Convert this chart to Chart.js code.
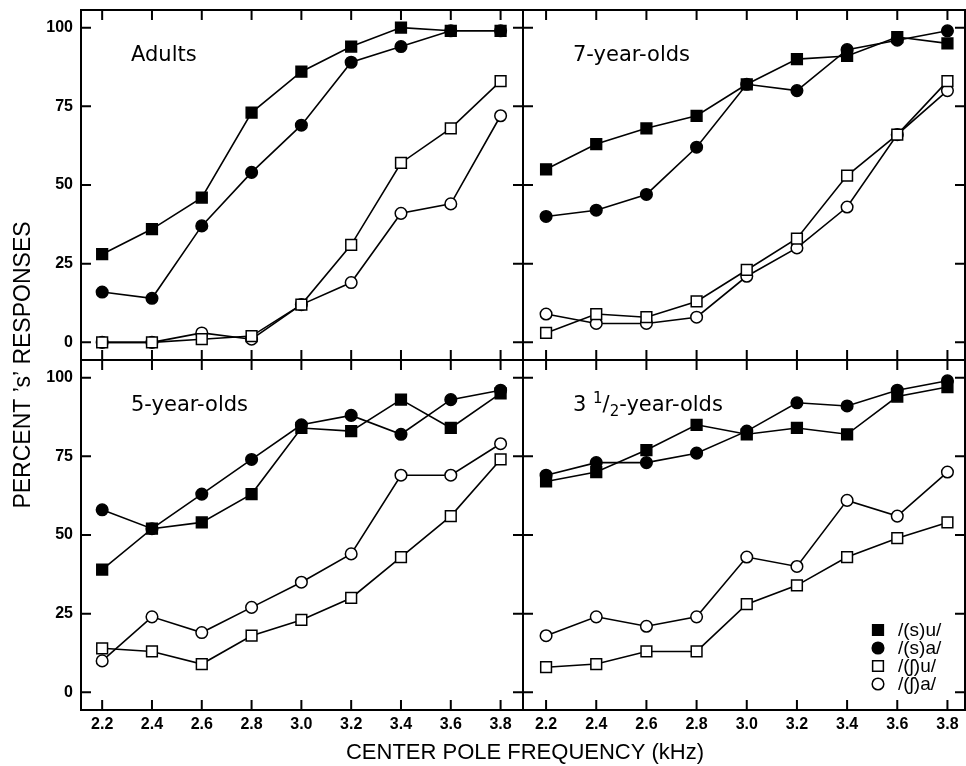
<!DOCTYPE html>
<html>
<head>
<meta charset="utf-8">
<script src="https://cdn.jsdelivr.net/npm/chart.js@4.4.1/dist/chart.umd.min.js"></script>
<style>
html, body { margin: 0; padding: 0; background: #fff; }
#wrap { position: relative; width: 966px; height: 766px; overflow: hidden; }
#wrap canvas { position: absolute; left: 0; top: 0; }
</style>
</head>
<body>
<div id="wrap">
  <canvas id="bg" width="966" height="766"></canvas>
  <canvas id="pAdults" width="966" height="766"></canvas>
  <canvas id="p7" width="966" height="766"></canvas>
  <canvas id="p5" width="966" height="766"></canvas>
  <canvas id="p3" width="966" height="766"></canvas>
</div>
<script>
// center pole frequency (kHz)
let freqs = [2.2, 2.4, 2.6, 2.8, 3.0, 3.2, 3.4, 3.6, 3.8];
let xTicks = [2.2, 2.4, 2.6, 2.8, 3.0, 3.2, 3.4, 3.6, 3.8];
let yTicks = [0, 25, 50, 75, 100];
let seriesNames = ["/(s)u/", "/(s)a/", "/(\u0283)u/", "/(\u0283)a/"];
let panelNames = ["Adults", "7-year-olds", "5-year-olds", "3 1/2-year-olds"];

// percent 's' responses
let adultsSu  = [28, 36, 46, 73, 86, 94, 100, 99, 99];
let adultsSa  = [16, 14, 37, 54, 69, 89, 94, 99, 99];
let adultsShu = [0, 0, 1, 2, 12, 31, 57, 68, 83];
let adultsSha = [0, 0, 3, 1, 12, 19, 41, 44, 72];

let sevenSu  = [55, 63, 68, 72, 82, 90, 91, 97, 95];
let sevenSa  = [40, 42, 47, 62, 82, 80, 93, 96, 99];
let sevenShu = [3, 9, 8, 13, 23, 33, 53, 66, 83];
let sevenSha = [9, 6, 6, 8, 21, 30, 43, 66, 80];

let fiveSu  = [39, 52, 54, 63, 84, 83, 93, 84, 95];
let fiveSa  = [58, 52, 63, 74, 85, 88, 82, 93, 96];
let fiveShu = [14, 13, 9, 18, 23, 30, 43, 56, 74];
let fiveSha = [10, 24, 19, 27, 35, 44, 69, 69, 79];

let threeSu  = [67, 70, 77, 85, 82, 84, 82, 94, 97];
let threeSa  = [69, 73, 73, 76, 83, 92, 91, 96, 99];
let threeShu = [8, 9, 13, 13, 28, 34, 43, 49, 54];
let threeSha = [18, 24, 21, 24, 43, 40, 61, 56, 70];

const W = 966, H = 766;
const Y_AXIS_W = 40, X_AXIS_H = 30;
const tickFont = { family: "'Liberation Sans', Arial, sans-serif", size: 16, weight: 'bold' };

let seriesStyles = [
  { pointStyle: 'rect',   radius: 7.6, fill: '#000' },
  { pointStyle: 'circle', radius: 5.8, fill: '#000' },
  { pointStyle: 'rect',   radius: 7.6, fill: '#fff' },
  { pointStyle: 'circle', radius: 5.8, fill: '#fff' }
];

function toPoints(vals) {
  return vals.map((v, i) => ({ x: freqs[i], y: v }));
}

function noPad(s) {
  s.paddingLeft = 0; s.paddingRight = 0; s.paddingTop = 0; s.paddingBottom = 0;
}

// frame with inward ticks on all four sides
const framePlugin = {
  id: 'frame',
  beforeDatasetsDraw(chart) {
    const { ctx, chartArea: a, scales } = chart;
    ctx.save();
    ctx.strokeStyle = '#000';
    ctx.lineWidth = 2;
    ctx.strokeRect(a.left, a.top, a.right - a.left, a.bottom - a.top);
    ctx.beginPath();
    xTicks.forEach(v => {
      const px = scales.x.getPixelForValue(v);
      ctx.moveTo(px, a.top); ctx.lineTo(px, a.top + 10);
      ctx.moveTo(px, a.bottom); ctx.lineTo(px, a.bottom - 10);
    });
    yTicks.forEach(v => {
      const py = scales.y.getPixelForValue(v);
      ctx.moveTo(a.left, py); ctx.lineTo(a.left + 10, py);
      ctx.moveTo(a.right, py); ctx.lineTo(a.right - 10, py);
    });
    ctx.stroke();
    ctx.restore();
  }
};

// panel name, with a stacked 1/2 where needed
const panelLabelPlugin = {
  id: 'panelLabel',
  afterDatasetsDraw(chart, args, opts) {
    if (!opts.text) return;
    const { ctx, chartArea: a } = chart;
    const fam = "'DejaVu Sans', sans-serif";
    let x = a.left + 50, y = a.top + 51;
    ctx.save();
    ctx.fillStyle = '#000';
    ctx.textBaseline = 'alphabetic';
    let parts = opts.text.split('1/2');
    if (parts.length === 1) {
      ctx.font = '21px ' + fam;
      ctx.fillText(opts.text, x, y);
    } else {
      let pieces = [[parts[0], 21, 0], ['1', 15, -8], ['/', 21, 0], ['2', 15, 5], [parts[1], 21, 0]];
      pieces.forEach(p => {
        ctx.font = p[1] + 'px ' + fam;
        ctx.fillText(p[0], x, y + p[2]);
        x += ctx.measureText(p[0]).width;
      });
    }
    ctx.restore();
  }
};

const legendPlugin = {
  id: 'cornerLegend',
  afterDatasetsDraw(chart, args, opts) {
    if (!opts.show) return;
    const { ctx, chartArea: a } = chart;
    ctx.save();
    ctx.font = "19px 'Liberation Sans', Arial, 'DejaVu Sans', sans-serif";
    ctx.textBaseline = 'middle';
    chart.data.datasets.forEach((ds, i) => {
      const mx = a.left + 355, my = a.top + 270 + i * 18;
      ctx.fillStyle = ds.pointBackgroundColor;
      ctx.strokeStyle = '#000';
      ctx.lineWidth = 1.5;
      Chart.helpers.drawPoint(ctx, { pointStyle: ds.pointStyle, radius: ds.pointRadius, borderWidth: 1.5, rotation: 0 }, mx, my);
      ctx.fillStyle = '#000';
      ctx.fillText(ds.label, a.left + 375, my + 1);
    });
    ctx.restore();
  }
};

function makePanel(id, name, series, area, xMin, xMax, showY, showX, showLegend) {
  const datasets = series.map((vals, i) => ({
    label: seriesNames[i],
    data: toPoints(vals),
    borderColor: '#000',
    borderWidth: 1.6,
    pointStyle: seriesStyles[i].pointStyle,
    pointRadius: seriesStyles[i].radius,
    pointBackgroundColor: seriesStyles[i].fill,
    pointBorderColor: '#000',
    pointBorderWidth: 1.5,
    tension: 0,
    clip: false
  }));
  return new Chart(id, {
    type: 'line',
    data: { datasets: datasets },
    options: {
      responsive: false,
      animation: false,
      events: [],
      layout: {
        autoPadding: false,
        padding: {
          left: showY ? area.left - Y_AXIS_W : area.left,
          top: area.top,
          right: W - area.right,
          bottom: showX ? H - area.bottom - X_AXIS_H : H - area.bottom
        }
      },
      scales: {
        x: {
          type: 'linear', min: xMin, max: xMax,
          grid: { display: false, drawTicks: false },
          border: { display: false },
          afterBuildTicks: s => { s.ticks = xTicks.map(v => ({ value: v })); },
          afterFit: s => { s.height = showX ? X_AXIS_H : 0; noPad(s); },
          ticks: { display: showX, color: '#000', font: tickFont, padding: 5, maxRotation: 0, autoSkip: false,
                   callback: v => Number(v).toFixed(1) }
        },
        y: {
          type: 'linear', min: -5.6, max: 105.6,
          grid: { display: false, drawTicks: false },
          border: { display: false },
          afterBuildTicks: s => { s.ticks = yTicks.map(v => ({ value: v })); },
          afterFit: s => { s.width = showY ? Y_AXIS_W : 0; noPad(s); },
          ticks: { display: showY, color: '#000', font: tickFont, padding: 8, autoSkip: false,
                   callback: v => String(v) }
        }
      },
      plugins: {
        legend: { display: false },
        tooltip: { enabled: false },
        panelLabel: { text: name },
        cornerLegend: { show: showLegend }
      }
    },
    plugins: [framePlugin, panelLabelPlugin, legendPlugin]
  });
}

// background chart only carries the two shared axis titles
const titleFont = { family: "'Liberation Sans', Arial, sans-serif", size: 22 };
new Chart('bg', {
  type: 'line',
  data: { datasets: [] },
  options: {
    responsive: false,
    animation: false,
    events: [],
    layout: { autoPadding: false, padding: { left: 0, top: 20, right: 1, bottom: 0 } },
    scales: {
      x: {
        type: 'linear', min: 0, max: 1,
        grid: { display: false, drawTicks: false }, border: { display: false },
        ticks: { display: false },
        afterFit: s => { s.height = 56; noPad(s); },
        title: { display: true, text: 'CENTER POLE FREQUENCY (kHz)', color: '#000', font: titleFont, padding: 0 }
      },
      y: {
        type: 'linear', min: 0, max: 1,
        grid: { display: false, drawTicks: false }, border: { display: false },
        ticks: { display: false },
        afterFit: s => { s.width = 85; noPad(s); },
        title: { display: true, text: 'PERCENT \u2019s\u2019 RESPONSES', color: '#000',
                 font: { family: "'Liberation Sans', Arial, sans-serif", size: 23 }, padding: { top: 10, bottom: 0 } }
      }
    },
    plugins: { legend: { display: false }, tooltip: { enabled: false } }
  }
});

makePanel('pAdults', panelNames[0], [adultsSu, adultsSa, adultsShu, adultsSha],
  { left: 81, top: 10, right: 523, bottom: 360 }, 2.115, 3.89, true, false, false);
makePanel('p7', panelNames[1], [sevenSu, sevenSa, sevenShu, sevenSha],
  { left: 523, top: 10, right: 965, bottom: 360 }, 2.108, 3.87, false, false, false);
makePanel('p5', panelNames[2], [fiveSu, fiveSa, fiveShu, fiveSha],
  { left: 81, top: 360, right: 523, bottom: 710 }, 2.115, 3.89, true, true, false);
makePanel('p3', panelNames[3], [threeSu, threeSa, threeShu, threeSha],
  { left: 523, top: 360, right: 965, bottom: 710 }, 2.108, 3.87, false, true, true);
</script>
</body>
</html>
